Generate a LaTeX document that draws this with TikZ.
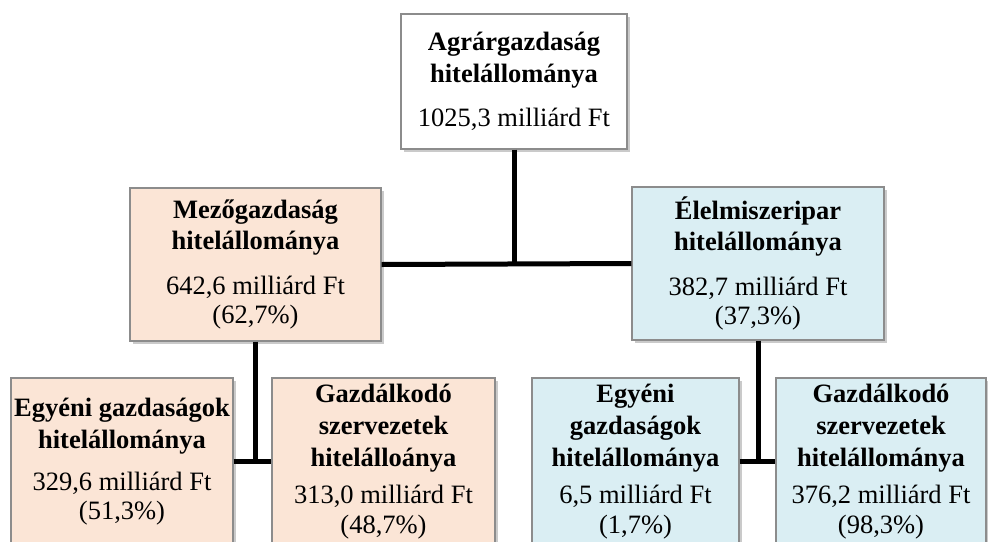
\documentclass[tikz,border=0pt]{standalone}
\usepackage{fontspec}
\setmainfont{Liberation Serif}
\usetikzlibrary{shadows}
\definecolor{peach}{HTML}{FBE5D6}
\definecolor{paleblue}{HTML}{DAEEF3}
\definecolor{boxborder}{HTML}{8C8C8C}
\tikzset{
  orgbox/.style={draw=boxborder, line width=1.3pt, rectangle, align=center, inner sep=0pt,
    font=\fontsize{26.5}{28}\selectfont,
    drop shadow={shadow xshift=2.5pt, shadow yshift=-2.5pt, opacity=0.35, fill=black!60}},
  conn/.style={line width=5pt, black}
}
\begin{document}
\begin{tikzpicture}[x=1pt, y=-1pt]
\useasboundingbox (0,0) rectangle (988,541);
\clip (0,0) rectangle (988,541);
\node[orgbox, fill=white, minimum width=226pt, minimum height=135pt] (top) at (514,81.5)
  {\textbf{Agrárgazdaság}\\[4pt]\textbf{hitelállománya}\\[16pt]1025,3 milliárd Ft};
\node[orgbox, fill=peach, minimum width=251pt, minimum height=153pt] (mez) at (255.5,264.5)
  {\textbf{Mezőgazdaság}\\[3pt]\textbf{hitelállománya}\\[17pt]642,6 milliárd Ft\\[1.5pt](62,7\%)};
\node[orgbox, fill=paleblue, minimum width=252pt, minimum height=153pt] (ele) at (758,263.5)
  {\textbf{Élelmiszeripar}\\[3pt]\textbf{hitelállománya}\\[17pt]382,7 milliárd Ft\\[1.5pt](37,3\%)};
\node[orgbox, fill=peach, minimum width=222pt, minimum height=167pt] (egy1) at (122,461.5)
  {\textbf{Egyéni gazdaságok}\\[4pt]\textbf{hitelállománya}\\[14pt]329,6 milliárd Ft\\[1.5pt](51,3\%)};
\node[orgbox, fill=peach, minimum width=223pt, minimum height=167pt] (gaz1) at (383.5,461.5)
  {\textbf{Gazdálkodó}\\[4pt]\textbf{szervezetek}\\[4pt]\textbf{hitelálloánya}\\[9pt]313,0 milliárd Ft\\[1.5pt](48,7\%)};
\node[orgbox, fill=paleblue, minimum width=207pt, minimum height=167pt] (egy2) at (635.5,461.5)
  {\textbf{Egyéni}\\[4pt]\textbf{gazdaságok}\\[4pt]\textbf{hitelállománya}\\[9pt]6,5 milliárd Ft\\[1.5pt](1,7\%)};
\node[orgbox, fill=paleblue, minimum width=210pt, minimum height=167pt] (gaz2) at (881,461.5)
  {\textbf{Gazdálkodó}\\[4pt]\textbf{szervezetek}\\[4pt]\textbf{hitelállománya}\\[9pt]376,2 milliárd Ft\\[1.5pt](98,3\%)};
\draw[conn] (top.south) -- (top.south |- mez.east);
\draw[conn] (mez.east) -- (ele.west);
\draw[conn] (mez.south) -- (mez.south |- egy1.east);
\draw[conn] (egy1.east) -- (gaz1.west);
\draw[conn] (ele.south) -- (ele.south |- egy2.east);
\draw[conn] (egy2.east) -- (gaz2.west);
\end{tikzpicture}
\end{document}
